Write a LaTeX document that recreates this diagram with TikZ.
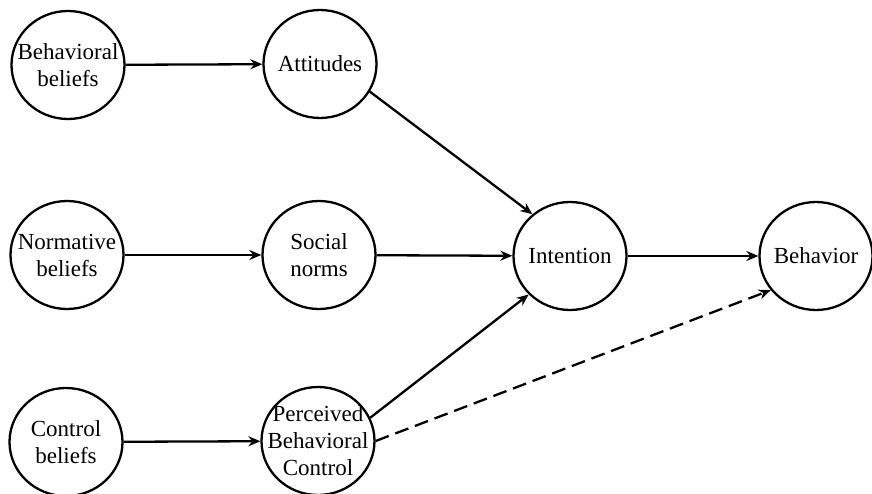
\documentclass[tikz,border=0pt]{standalone}
\usepackage{fontspec}
\setmainfont{Liberation Serif}
\usetikzlibrary{shapes.geometric,arrows.meta}
\tikzset{
  concept/.style={ellipse, draw, line width=2.3pt, minimum width=113pt, minimum height=108pt,
    inner sep=0pt},
  conceptlabel/.style={align=center, font=\fontsize{23}{27}\selectfont, inner sep=0pt},
  link/.style={line width=2.3pt, -{Stealth[length=12pt,width=10pt,inset=4pt]}},
  dashlink/.style={link, dash pattern=on 14pt off 7pt}
}
\begin{document}
\begin{tikzpicture}[x=1pt,y=-1pt]
\useasboundingbox (0,0) rectangle (872,494);
\node[concept, label={[conceptlabel]center:Behavioral\\beliefs}] (bb) at (68,65) {};
\node[concept, label={[conceptlabel]center:Attitudes}] (att) at (320,64) {};
\node[concept, label={[conceptlabel]center:Normative\\beliefs}] (nb) at (67,255) {};
\node[concept, label={[conceptlabel]center:Social\\norms}] (sn) at (319,255) {};
\node[concept, label={[conceptlabel]center:Control\\beliefs}] (cb) at (66,442) {};
\node[concept, label={[conceptlabel]center:Perceived\\Behavioral\\Control}] (pbc) at (318,441) {};
\node[concept, label={[conceptlabel]center:Intention}] (int) at (570,256) {};
\node[concept, label={[conceptlabel]center:Behavior}] (beh) at (816,256) {};
\draw[link] (bb) -- (att);
\draw[link] (nb) -- (sn);
\draw[link] (cb) -- (pbc);
\draw[link] (sn) -- (int);
\draw[link] (int) -- (beh);
\draw[link] (att.-29) -- (int.132);
\draw[link] (pbc.24) -- (int.223);
\draw[dashlink] (pbc.0) -- (beh.217);
\end{tikzpicture}
\end{document}
